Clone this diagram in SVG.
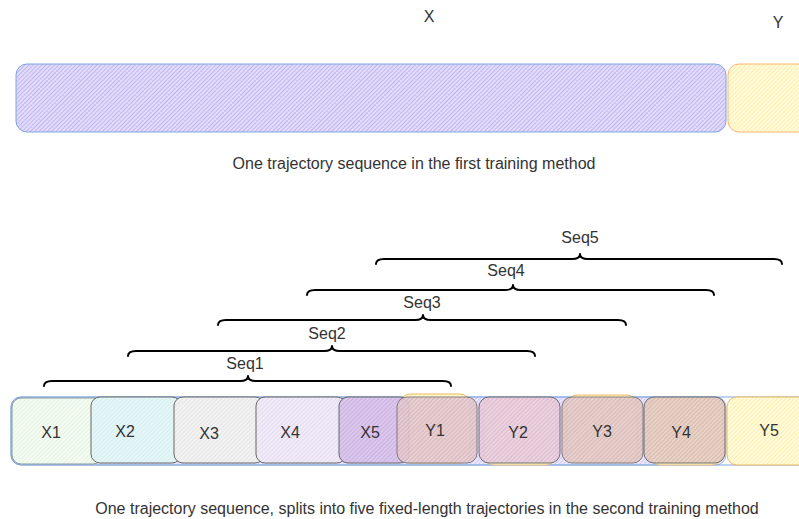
<svg xmlns="http://www.w3.org/2000/svg" width="799" height="519" viewBox="0 0 799 519">
<style>
  text { font-family: "Liberation Sans", Arial, sans-serif; font-size: 16px; fill: #333; text-anchor: middle; dominant-baseline: central; }
  .brace { fill: none; stroke: #000; stroke-width: 2; stroke-linejoin: round; stroke-linecap: round; }
  .box { stroke-width: 1; }
</style>
<defs>
  <pattern id="hPurple" width="3" height="3" patternUnits="userSpaceOnUse" patternTransform="rotate(45)">
    <rect width="3" height="3" fill="#e4ddfa"/><line x1="0" y1="0" x2="0" y2="3" stroke="#a898ee" stroke-width="1.2"/>
  </pattern>
  <pattern id="hYellow" width="3" height="3" patternUnits="userSpaceOnUse" patternTransform="rotate(45)">
    <rect width="3" height="3" fill="#fffbe0"/><line x1="0" y1="0" x2="0" y2="3" stroke="#ffe880" stroke-width="1.2"/>
  </pattern>
  <pattern id="hGreen" width="3" height="3" patternUnits="userSpaceOnUse" patternTransform="rotate(45)">
    <rect width="3" height="3" fill="#f4fbf2"/><line x1="0" y1="0" x2="0" y2="3" stroke="#dcf0d8" stroke-width="1.2"/>
  </pattern>
  <pattern id="hCyan" width="3" height="3" patternUnits="userSpaceOnUse" patternTransform="rotate(45)">
    <rect width="3" height="3" fill="#e6f6f7"/><line x1="0" y1="0" x2="0" y2="3" stroke="#c8ecef" stroke-width="1.2"/>
  </pattern>
  <pattern id="hGray" width="3" height="3" patternUnits="userSpaceOnUse" patternTransform="rotate(45)">
    <rect width="3" height="3" fill="#f2f2f2"/><line x1="0" y1="0" x2="0" y2="3" stroke="#dedede" stroke-width="1.2"/>
  </pattern>
  <pattern id="hLilac" width="3" height="3" patternUnits="userSpaceOnUse" patternTransform="rotate(45)">
    <rect width="3" height="3" fill="#f1ebf8"/><line x1="0" y1="0" x2="0" y2="3" stroke="#ddd0ee" stroke-width="1.2"/>
  </pattern>
  <pattern id="hViolet" width="3" height="3" patternUnits="userSpaceOnUse" patternTransform="rotate(45)">
    <rect width="3" height="3" fill="#dcc8ec"/><line x1="0" y1="0" x2="0" y2="3" stroke="#bfa0da" stroke-width="1.2"/>
  </pattern>
  <pattern id="hRose" width="3" height="3" patternUnits="userSpaceOnUse" patternTransform="rotate(45)">
    <rect width="3" height="3" fill="#e6ccd2"/><line x1="0" y1="0" x2="0" y2="3" stroke="#c8a4b0" stroke-width="1.2"/>
  </pattern>
  <pattern id="hPink" width="3" height="3" patternUnits="userSpaceOnUse" patternTransform="rotate(45)">
    <rect width="3" height="3" fill="#eacfe0"/><line x1="0" y1="0" x2="0" y2="3" stroke="#cfa8c4" stroke-width="1.2"/>
  </pattern>
  <pattern id="hTan" width="3" height="3" patternUnits="userSpaceOnUse" patternTransform="rotate(45)">
    <rect width="3" height="3" fill="#e6cccc"/><line x1="0" y1="0" x2="0" y2="3" stroke="#c8a8a8" stroke-width="1.2"/>
  </pattern>
  <pattern id="hPeach" width="3" height="3" patternUnits="userSpaceOnUse" patternTransform="rotate(45)">
    <rect width="3" height="3" fill="#e8d0c8"/><line x1="0" y1="0" x2="0" y2="3" stroke="#c8a498" stroke-width="1.2"/>
  </pattern>
</defs>

<g id="labels-top">
  <text x="429" y="16">X</text>
  <text x="778" y="22">Y</text>
</g>

<g id="top-x">
  <rect x="16" y="64" width="710" height="68" rx="11" fill="url(#hPurple)" stroke="#7ea6e0" class="box"/>
</g>
<g id="top-y">
  <rect x="728" y="64" width="100" height="68" rx="11" fill="url(#hYellow)" stroke="#ffb570" class="box"/>
</g>
<text x="414" y="163">One trajectory sequence in the first training method</text>

<g id="bottom-background">
  <rect x="11" y="397" width="715" height="68" rx="10" fill="url(#hPurple)" stroke="#7ea6e0" opacity="0.7"/>
  <rect x="11" y="397" width="820" height="68" rx="10" fill="none" stroke="#7ea6e0"/>
  <rect x="400" y="394" width="70" height="69" rx="10" fill="url(#hYellow)" stroke="#f0b860"/>
  <rect x="484" y="399" width="72" height="66" rx="10" fill="url(#hYellow)" stroke="#f0c080"/>
  <rect x="567" y="395" width="70" height="67" rx="10" fill="url(#hYellow)" stroke="#f0b860"/>
  <rect x="650" y="399" width="72" height="66" rx="10" fill="url(#hYellow)" stroke="#f0c080"/>
</g>

<g id="X1"><rect x="12" y="398" width="90" height="66" rx="9" fill="url(#hGreen)" stroke="#8a9aa0"/><text x="51" y="432">X1</text></g>
<g id="X2"><rect x="91" y="397" width="90" height="66" rx="9" fill="url(#hCyan)" stroke="#666"/><text x="125" y="431">X2</text></g>
<g id="X3"><rect x="174" y="397" width="90" height="66" rx="9" fill="url(#hGray)" stroke="#666"/><text x="209" y="433">X3</text></g>
<g id="X4"><rect x="256" y="397" width="90" height="66" rx="9" fill="url(#hLilac)" stroke="#666"/><text x="290" y="432">X4</text></g>
<g id="X5"><rect x="339" y="397" width="70" height="66" rx="9" fill="url(#hViolet)" stroke="#666"/><text x="370" y="432">X5</text></g>
<g id="Y1"><rect x="397" y="397" width="80" height="66" rx="10" fill="url(#hRose)" stroke="#777" opacity="0.92"/><text x="435" y="430">Y1</text></g>
<g id="Y2"><rect x="479" y="397" width="81" height="66" rx="10" fill="url(#hPink)" stroke="#666" opacity="0.92"/><text x="518" y="432">Y2</text></g>
<g id="Y3"><rect x="562" y="397" width="81" height="66" rx="10" fill="url(#hTan)" stroke="#777" opacity="0.92"/><text x="602" y="431">Y3</text></g>
<g id="Y4"><rect x="644" y="397" width="81" height="66" rx="10" fill="url(#hPeach)" stroke="#666" opacity="0.92"/><text x="681" y="432">Y4</text></g>
<g id="Y5"><rect x="727" y="397" width="100" height="68" rx="10" fill="url(#hYellow)" stroke="#f0b860"/><text x="769" y="430">Y5</text></g>

<g id="connectors">
  <path class="brace" d="M44,386 Q44,381 52,381 L240,381 Q248,381 248,376 Q248,381 256,381 L443,381 Q451,381 451,386"/>
  <path class="brace" d="M128,356 Q128,351 136,351 L324,351 Q332,351 332,346 Q332,351 340,351 L527,351 Q535,351 535,356"/>
  <path class="brace" d="M218,325 Q218,320 226,320 L415,320 Q423,320 423,315 Q423,320 431,320 L618,320 Q626,320 626,325"/>
  <path class="brace" d="M307,295 Q307,290 315,290 L505,290 Q513,290 513,285 Q513,290 521,290 L706,290 Q714,290 714,295"/>
  <path class="brace" d="M376,264 Q376,259 384,259 L572,259 Q580,259 580,254 Q580,259 588,259 L774,259 Q782,259 782,264"/>
</g>

<g id="seq-labels">
  <text x="245" y="363">Seq1</text>
  <text x="327" y="333">Seq2</text>
  <text x="422" y="302">Seq3</text>
  <text x="506" y="270">Seq4</text>
  <text x="580" y="237">Seq5</text>
</g>

<text x="427" y="508">One trajectory sequence, splits into five fixed-length trajectories in the second training method</text>
</svg>
